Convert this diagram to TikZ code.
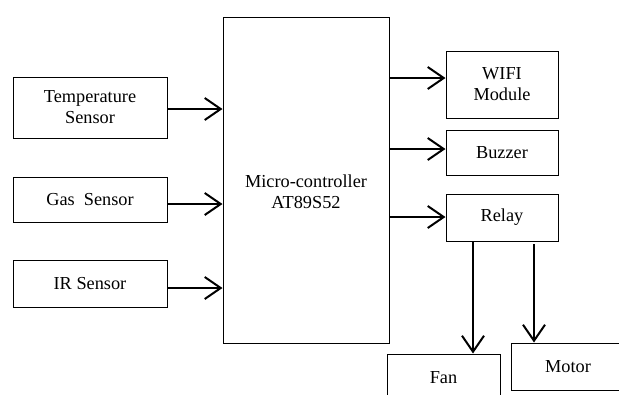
\documentclass[tikz,border=0pt]{standalone}
\usepackage{fontspec}
\newfontfamily\tnr{LiberationSerif-Regular.ttf}
\usetikzlibrary{arrows.meta}
\begin{document}
\begin{tikzpicture}[x=1pt,y=-1pt,
  blk/.style={draw,line width=1pt,inner sep=0pt,align=center,font=\tnr\fontsize{18.3}{21}\selectfont},
  conn/.style={line width=2pt,-{Straight Barb[length=16pt,width=22pt,line width=2pt]}}]
\useasboundingbox (0,0) rectangle (619,394);
\clip (0,0) rectangle (619,394);
\node[blk,minimum width=154pt,minimum height=61pt] (temp) at (90,107.5) {Temperature\\Sensor};
\node[blk,minimum width=154pt,minimum height=45pt] (gas) at (90,199.5) {Gas\ \ Sensor};
\node[blk,minimum width=154pt,minimum height=47pt] (ir) at (90,283.5) {IR Sensor};
\node[draw,line width=1pt,minimum width=166pt,minimum height=326pt,inner sep=0pt] (mc) at (306,180) {};
\node[font=\tnr\fontsize{18.3}{21}\selectfont,align=center] (mctext) at (306,192) {Micro-controller\\AT89S52};
\node[blk,minimum width=112pt,minimum height=67pt] (wifi) at (502,84.5) {WIFI\\Module};
\node[blk,minimum width=112pt,minimum height=45pt] (buz) at (502,152.5) {Buzzer};
\node[blk,minimum width=112pt,minimum height=47pt] (relay) at (502,217.5) {Relay};
\node[blk,minimum width=113pt,minimum height=48pt] (fan) at (443.5,378) {Fan};
\node[blk,minimum width=114pt,minimum height=47pt] (motor) at (568,366.5) {Motor};
\draw[conn] (temp.east |- 0,109) -- (mc.west |- 0,109);
\draw[conn] (gas.east |- 0,204) -- (mc.west |- 0,204);
\draw[conn] (ir.east |- 0,288) -- (mc.west |- 0,288);
\draw[conn] (mc.east |- 0,78) -- (wifi.west |- 0,78);
\draw[conn] (mc.east |- 0,149) -- (buz.west |- 0,149);
\draw[conn] (mc.east |- 0,217) -- (relay.west |- 0,217);
\draw[conn] (relay.south -| 473,0) -- (fan.north -| 473,0);
\draw[conn] (534,244) -- (motor.north -| 534,0);
\end{tikzpicture}
\end{document}
